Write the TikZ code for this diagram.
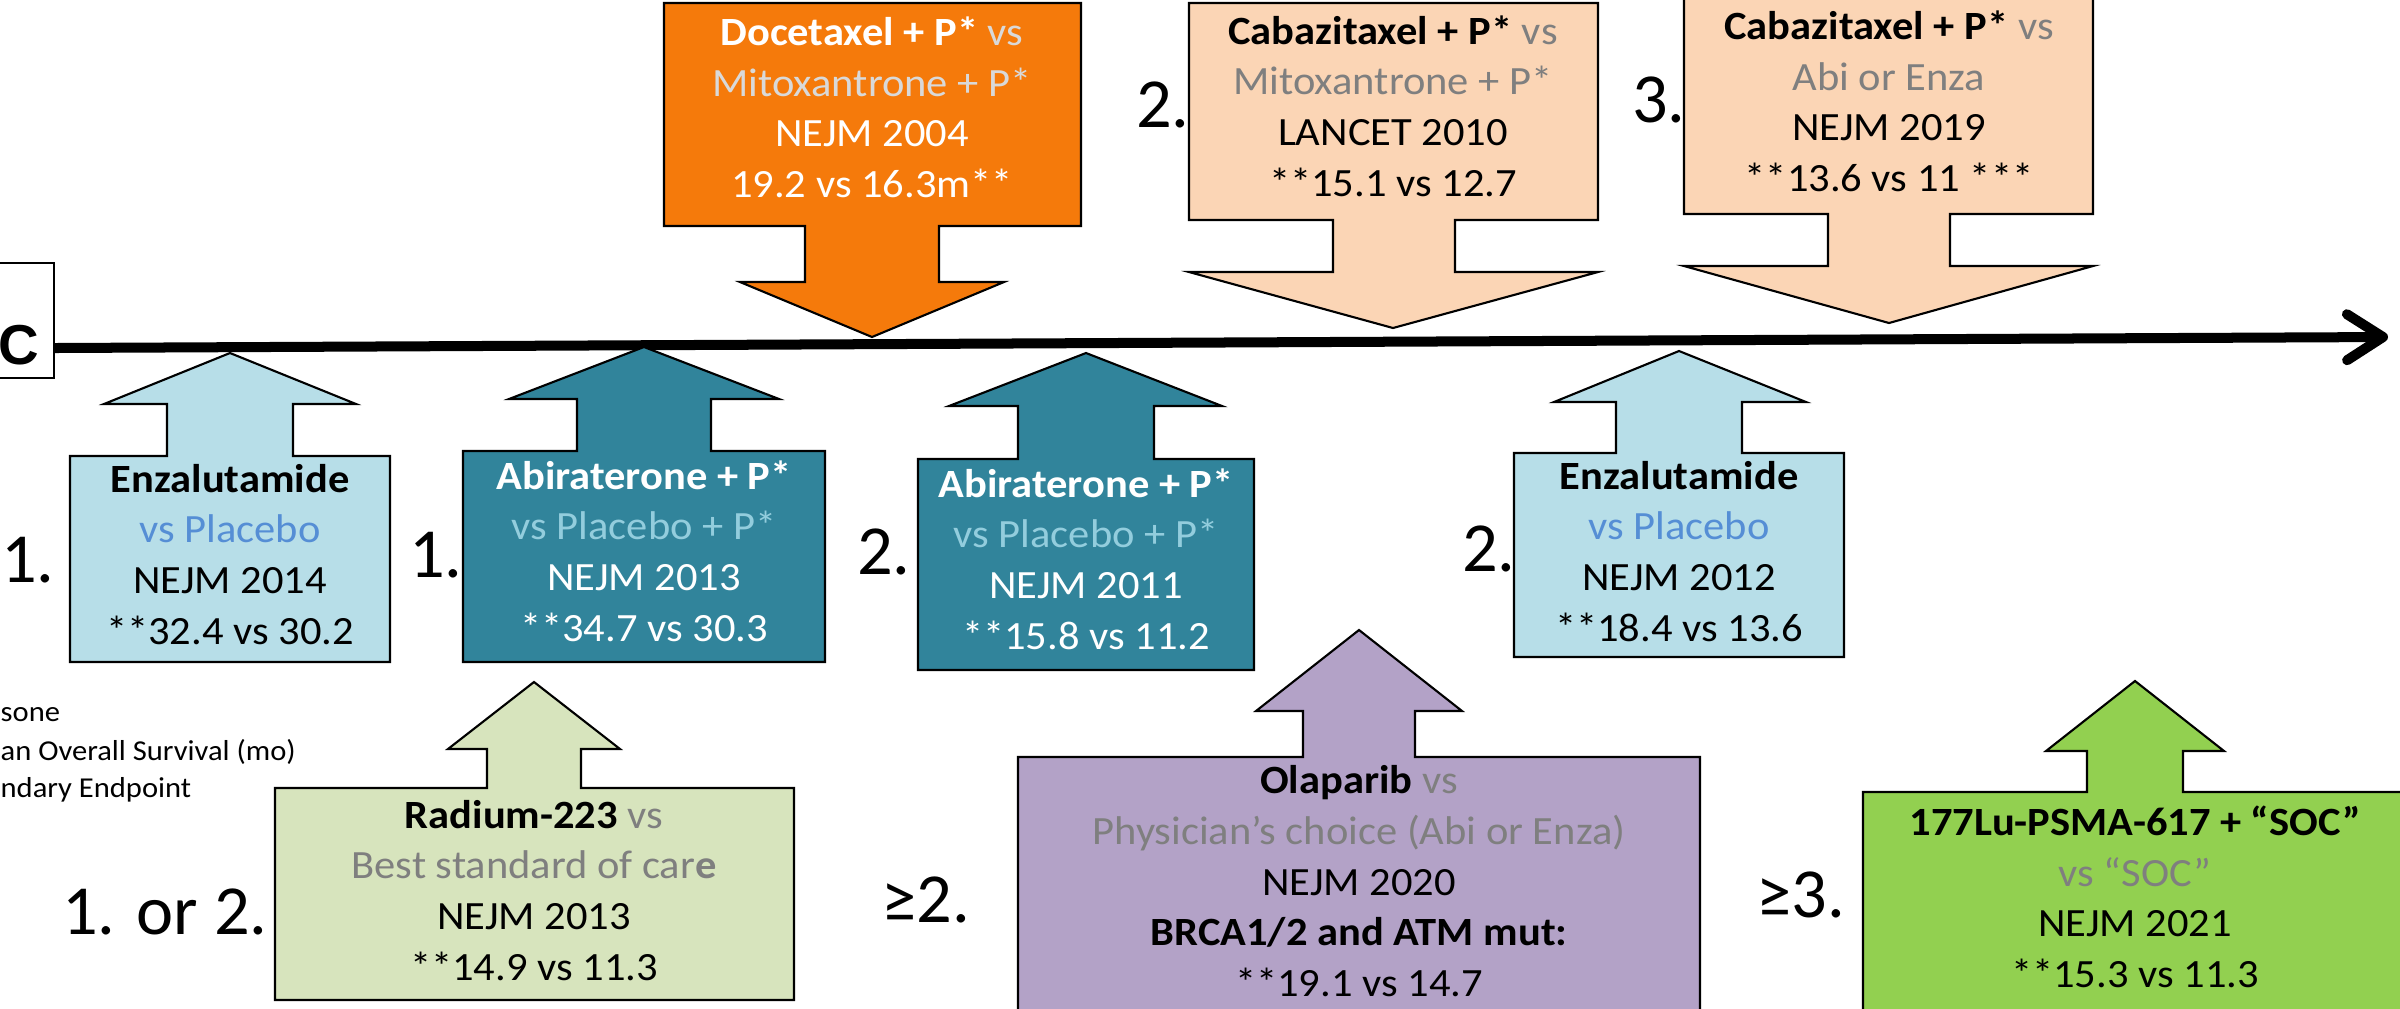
\documentclass[tikz,border=0pt]{standalone}
\usepackage{fontspec}
\setmainfont{Carlito}
\newfontfamily\boxfont{Carlito}[FakeStretch=1.06]
\newfontfamily\arialfont{Liberation Sans}
\usetikzlibrary{arrows.meta}
\definecolor{lblue}{HTML}{B7DEE8}
\definecolor{tealbox}{HTML}{31849B}
\definecolor{orangebox}{HTML}{F57A0B}
\definecolor{peach}{HTML}{FBD5B5}
\definecolor{lgreen}{HTML}{D7E4BD}
\definecolor{purplebox}{HTML}{B3A2C7}
\definecolor{greenbox}{HTML}{92D050}
\definecolor{placeblue}{HTML}{558ED5}
\definecolor{vsgray}{HTML}{7F7F7F}
\definecolor{ltgray}{HTML}{D9D9D9}
\definecolor{tealtext}{HTML}{93CDDD}
\begin{document}
\begin{tikzpicture}[x=0.01cm,y=-0.01cm,
  co/.style={draw=black, line width=0.6pt, line join=miter},
  bt/.style={font=\boxfont\fontsize{11.4}{14.4}\selectfont, align=center, inner sep=0pt},
  num/.style={font=\fontsize{20}{24}\selectfont, inner sep=0pt},
  leg/.style={font=\boxfont\fontsize{8.2}{9.6}\selectfont, inner sep=0pt, anchor=west},
  timeline/.style={line width=0.1cm, -{Straight Barb[length=0.36cm, width=0.46cm, line cap=round, line join=round]}}]
\useasboundingbox (0,0) rectangle (2400,1008);
\clip (0,0) rectangle (2400,1008);

% left box with C
\node[draw, line width=0.6pt, minimum width=0.7cm, minimum height=1.15cm, inner sep=0pt, anchor=east] (cbox) at (55,320.5) {};
\node[font=\arialfont\bfseries\fontsize{16}{19}\selectfont, inner sep=0pt] (ctext) at (19,345) {C};

% timeline
\coordinate (tlstart) at (55,348);
\coordinate (tlend) at (2388,337);
\draw[timeline] (tlstart) -- (tlend);

% ---- callouts above (pointing down)
\filldraw[co, fill=orangebox] (664,3)--(1081,3)--(1081,226)--(939,226)--(939,282)--(1004,282)--(872,337)--(740,282)--(805,282)--(805,226)--(664,226)--cycle;
\filldraw[co, fill=peach] (1189,3)--(1598,3)--(1598,220)--(1455,220)--(1455,272)--(1598,272)--(1393,328)--(1189,272)--(1333,272)--(1333,220)--(1189,220)--cycle;
\filldraw[co, fill=peach] (1684,-5)--(2093,-5)--(2093,214)--(1950,214)--(1950,266)--(2093,266)--(1889,323)--(1684,266)--(1828,266)--(1828,214)--(1684,214)--cycle;

% ---- callouts below (pointing up)
\filldraw[co, fill=lblue] (70,662)--(70,456)--(167,456)--(167,404)--(104,404)--(230,353)--(356,404)--(293,404)--(293,456)--(390,456)--(390,662)--cycle;
\filldraw[co, fill=tealbox] (463,662)--(463,451)--(577,451)--(577,399)--(509,399)--(644,347)--(779,399)--(711,399)--(711,451)--(825,451)--(825,662)--cycle;
\filldraw[co, fill=tealbox] (918,670)--(918,459)--(1018,459)--(1018,406)--(949,406)--(1086,353)--(1222,406)--(1154,406)--(1154,459)--(1254,459)--(1254,670)--cycle;
\filldraw[co, fill=lblue] (1514,657)--(1514,453)--(1616,453)--(1616,402)--(1554,402)--(1679,351)--(1806,402)--(1742,402)--(1742,453)--(1844,453)--(1844,657)--cycle;
\filldraw[co, fill=lgreen] (275,1000)--(275,788)--(487,788)--(487,749)--(448,749)--(534,682)--(620,749)--(581,749)--(581,788)--(794,788)--(794,1000)--cycle;
\filldraw[co, fill=purplebox] (1018,1030)--(1018,757)--(1303,757)--(1303,711)--(1256,711)--(1359,630)--(1462,711)--(1415,711)--(1415,757)--(1700,757)--(1700,1030)--cycle;
\filldraw[co, fill=greenbox] (1863,1030)--(1863,792)--(2087,792)--(2087,751)--(2046,751)--(2135,681)--(2224,751)--(2183,751)--(2183,792)--(2410,792)--(2410,1030)--cycle;

% ---- texts
\node[bt, text=white] (t-doce) at (872,111.5) {\strut\textbf{Docetaxel + P*} \textcolor{ltgray}{vs}\\\strut\textcolor{ltgray}{Mitoxantrone + P*}\\\strut NEJM 2004\\\strut 19.2 vs 16.3m**};
\node[bt] (t-caba2) at (1393,110) {\strut\textbf{Cabazitaxel + P*} \textcolor{vsgray}{vs}\\\strut\textcolor{vsgray}{Mitoxantrone + P*}\\\strut LANCET 2010\\\strut **15.1 vs 12.7};
\node[bt] (t-caba3) at (1889,105.5) {\strut\textbf{Cabazitaxel + P*} \textcolor{vsgray}{vs}\\\strut\textcolor{vsgray}{Abi or Enza}\\\strut NEJM 2019\\\strut **13.6 vs 11 ***};
\node[bt] (t-enza1) at (230,558) {\strut\textbf{Enzalutamide}\\\strut\textcolor{placeblue}{vs Placebo}\\\strut NEJM 2014\\\strut **32.4 vs 30.2};
\node[bt, text=white] (t-abi1) at (644,555) {\strut\textbf{Abiraterone + P*}\\\strut\textcolor{tealtext}{vs Placebo + P*}\\\strut NEJM 2013\\\strut **34.7 vs 30.3};
\node[bt, text=white] (t-abi2) at (1086,563) {\strut\textbf{Abiraterone + P*}\\\strut\textcolor{tealtext}{vs Placebo + P*}\\\strut NEJM 2011\\\strut **15.8 vs 11.2};
\node[bt] (t-enza2) at (1679,555) {\strut\textbf{Enzalutamide}\\\strut\textcolor{placeblue}{vs Placebo}\\\strut NEJM 2012\\\strut **18.4 vs 13.6};
\node[bt] (t-rad) at (534,894) {\strut\textbf{Radium-223} \textcolor{vsgray}{vs}\\\strut\textcolor{vsgray}{Best standard of car\textbf{e}}\\\strut NEJM 2013\\\strut **14.9 vs 11.3};
\node[bt] (t-ola) at (1359,885) {\strut\textbf{Olaparib} \textcolor{vsgray}{vs}\\\strut\textcolor{vsgray}{Physician’s choice (Abi or Enza)}\\\strut NEJM 2020\\\strut\textbf{BRCA1/2 and ATM mut:}\\\strut **19.1 vs 14.7};
\node[bt] (t-lu) at (2135,901.5) {\strut\textbf{177Lu-PSMA-617 + “SOC”}\\\strut\textcolor{vsgray}{vs “SOC”}\\\strut NEJM 2021\\\strut **15.3 vs 11.3};

% ---- line numbers
\node[num] (n-enza1) at (28,560) {1.};
\node[num] (n-abi1) at (436,555) {1.};
\node[num] (n-caba2) at (1163,105) {2.};
\node[num] (n-caba3) at (1659,100) {3.};
\node[num] (n-abi2) at (884,552) {2.};
\node[num] (n-enza2) at (1489,549) {2.};
\node[num] (n-rad) at (165,912) {1. or 2.};
\node[num] (n-ola) at (926,900) {≥2.};
\node[num] (n-lu) at (1801,895) {≥3.};

% ---- legend (cut off at left)
\node[leg] (lg1) at (0,715) {sone};
\node[leg] (lg2) at (0,752) {an Overall Survival (mo)};
\node[leg] (lg3) at (0,790) {ndary Endpoint};
\end{tikzpicture}
\end{document}
